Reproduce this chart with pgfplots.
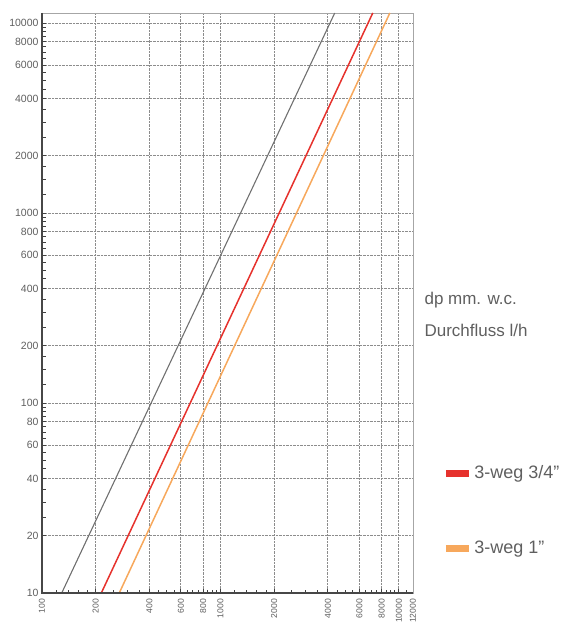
\documentclass[border=0pt]{standalone}
\usepackage{pgfplots}
\pgfplotsset{compat=1.18}
\usepackage{fontspec}
\setmainfont{Liberation Sans}
\definecolor{lred}{RGB}{230,50,45}
\definecolor{lorange}{RGB}{247,168,92}
\definecolor{lgray}{RGB}{112,112,112}
\definecolor{txt}{RGB}{95,95,95}
\definecolor{gridc}{RGB}{140,140,140}
\begin{document}
\begin{tikzpicture}
\useasboundingbox (0,0) rectangle (568pt,624pt);
\begin{axis}[
  at={(42pt,31pt)}, anchor=south west,
  scale only axis, width=371pt, height=580pt,
  xmode=log, ymode=log,
  xmin=100, xmax=12000, ymin=10, ymax=11300,
  clip=false,
  axis line style={draw=gray!70, line width=0.6pt},
  tick pos=left, tick align=inside,
  major tick length=4pt, minor tick length=3.5pt,
  every tick/.style={black!75, line width=0.9pt},
  grid=major,
  major grid style={densely dotted, gridc, line width=0.8pt},
  xtick={100,200,400,600,800,1000,2000,4000,6000,8000,10000,12000},
  xticklabels={100,200,400,600,800,1000,2000,4000,6000,8000,10000,12000},
  ytick={10,20,40,60,80,100,200,400,600,800,1000,2000,4000,6000,8000,10000},
  yticklabels={10,20,40,60,80,100,200,400,600,800,1000,2000,4000,6000,8000,10000},
  minor xtick={120,140,160,180,250,300,350,450,500,550,650,700,750,850,900,950,
    1200,1400,1600,1800,2500,3000,3500,4500,5000,5500,6500,7000,7500,8500,9000,9500,11000},
  minor ytick={25,30,35,45,50,55,65,70,75,85,90,95,
    125,150,175,250,300,350,450,500,550,650,700,750,850,900,950,
    1250,1500,1750,2500,3000,3500,4500,5000,5500,6500,7000,7500,8500,9000,9500},
  xticklabel shift=2.5pt,
  xticklabel style={rotate=90, anchor=east, font=\fontsize{8.6}{10}\selectfont, color=txt},
  yticklabel style={font=\fontsize{10.5}{12}\selectfont, color=txt},
  legend style={at={(1.0785,0.142)}, anchor=west, draw=none, fill=none,
    font=\fontsize{18}{21}\selectfont, text=txt, row sep=57pt, inner sep=0pt,
    cells={anchor=west}},
  legend image code/.code={\draw[#1, line width=7pt] (0pt,0pt) -- (23pt,0pt);},
]
\addplot[lgray, line width=1.1pt, forget plot] coordinates {(129,10) (4370,11300)};
\addplot[lred, line width=1.5pt] coordinates {(215,10) (7140,11300)};
\addlegendentry{3-weg 3/4''}
\addplot[lorange, line width=1.5pt] coordinates {(271,10) (8900,11300)};
\addlegendentry{3-weg 1''}
\draw[line width=1.6pt, black!72] (rel axis cs:0,1) -- (rel axis cs:0,0) -- (rel axis cs:1,0);
\node[anchor=base west, font=\fontsize{17}{20}\selectfont, text=txt] at (rel axis cs:1.0216,0.4966) {dp mm. w.c.};
\node[anchor=base west, font=\fontsize{17}{20}\selectfont, text=txt] at (rel axis cs:1.0216,0.4414) {Durchfluss l/h};
\end{axis}
\end{tikzpicture}
\end{document}
